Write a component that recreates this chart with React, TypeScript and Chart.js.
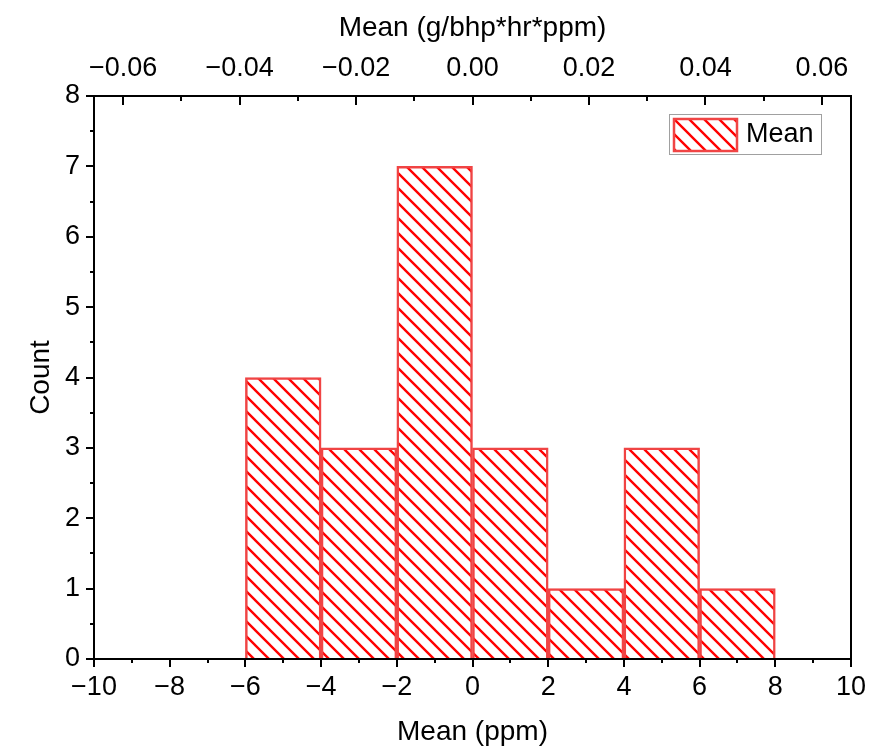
import React, { useEffect, useRef } from "react";
import { Chart, registerables } from "chart.js";

Chart.register(...registerables);

// ---- Data ----
const binStarts = [-6, -4, -2, 0, 2, 4, 6];
const binWidth = 2;
const counts = [4, 3, 7, 3, 1, 3, 1];
const seriesLabel = "Mean";
const xTicks = [-10, -8, -6, -4, -2, 0, 2, 4, 6, 8, 10];
const xMinorTicks = [-9, -7, -5, -3, -1, 1, 3, 5, 7, 9];
const topTicks = [-0.06, -0.04, -0.02, 0, 0.02, 0.04, 0.06];
const topMinorTicks = [-0.05, -0.03, -0.01, 0.01, 0.03, 0.05];
const yTicks = [0, 1, 2, 3, 4, 5, 6, 7, 8];
const yMinorTicks = [0.5, 1.5, 2.5, 3.5, 4.5, 5.5, 6.5, 7.5];
const xTitle = "Mean (ppm)";
const topTitle = "Mean (g/bhp*hr*ppm)";
const yTitle = "Count";

const FONT = "'Liberation Sans', Arial, sans-serif";
const FS = 27;
const TFS = 28;

function minus(v: number, digits: number) {
  const s = Math.abs(v).toFixed(digits);
  return (v < -1e-12 ? "\u2212" : "") + s;
}

function makePattern(): CanvasPattern | string {
  const size = 15;
  const c = document.createElement("canvas");
  c.width = size;
  c.height = size;
  const ctx = c.getContext("2d");
  if (!ctx) return "#ff0000";
  ctx.fillStyle = "#ffffff";
  ctx.fillRect(0, 0, size, size);
  ctx.strokeStyle = "#ff0000";
  ctx.lineWidth = 2.4;
  ctx.beginPath();
  ctx.moveTo(-2, -2);
  ctx.lineTo(size + 2, size + 2);
  ctx.moveTo(size - 3, -3);
  ctx.lineTo(size + 3, 3);
  ctx.moveTo(-3, size - 3);
  ctx.lineTo(3, size + 3);
  ctx.stroke();
  const p = ctx.createPattern(c, "repeat");
  return p || "#ff0000";
}

function zeroPad(s: any) {
  s.paddingLeft = 0;
  s.paddingRight = 0;
  s.paddingTop = 0;
  s.paddingBottom = 0;
}

export default function App() {
  const ref = useRef<HTMLCanvasElement | null>(null);

  useEffect(() => {
    const canvas = ref.current;
    if (!canvas) return;
    const pattern = makePattern();
    const borderRed = "#f04444";

    const frameTicks = {
      id: "frameTicks",
      afterDatasetsDraw(chart: any) {
        const { ctx, chartArea } = chart;
        const { left, right, top, bottom } = chartArea;
        const sx = chart.scales.x;
        const sx2 = chart.scales.x2;
        const sy = chart.scales.y;
        ctx.save();
        ctx.strokeStyle = "#000";
        ctx.lineWidth = 2;
        ctx.strokeRect(left, top, right - left, bottom - top);
        ctx.beginPath();
        const major = 8;
        const minor = 4;
        xTicks.forEach((v) => {
          const p = Math.round(sx.getPixelForValue(v));
          ctx.moveTo(p, bottom);
          ctx.lineTo(p, bottom + major);
        });
        xMinorTicks.forEach((v) => {
          const p = Math.round(sx.getPixelForValue(v));
          ctx.moveTo(p, bottom);
          ctx.lineTo(p, bottom + minor);
        });
        topTicks.forEach((v) => {
          const p = Math.round(sx2.getPixelForValue(v));
          ctx.moveTo(p, top);
          ctx.lineTo(p, top + major + 1);
        });
        topMinorTicks.forEach((v) => {
          const p = Math.round(sx2.getPixelForValue(v));
          ctx.moveTo(p, top);
          ctx.lineTo(p, top + minor + 1);
        });
        yTicks.forEach((v) => {
          const p = Math.round(sy.getPixelForValue(v));
          ctx.moveTo(left, p);
          ctx.lineTo(left - major, p);
        });
        yMinorTicks.forEach((v) => {
          const p = Math.round(sy.getPixelForValue(v));
          ctx.moveTo(left, p);
          ctx.lineTo(left - minor, p);
        });
        ctx.stroke();
        ctx.restore();
      },
      afterDraw(chart: any) {
        const { ctx, chartArea } = chart;
        const ds = chart.data.datasets[0];
        const bx = chartArea.right - 182;
        const by = chartArea.top + 18;
        const bw = 152;
        const bh = 40;
        ctx.save();
        ctx.fillStyle = "#fff";
        ctx.fillRect(bx, by, bw, bh);
        ctx.strokeStyle = "#a0a0a0";
        ctx.lineWidth = 1;
        ctx.strokeRect(bx + 0.5, by + 0.5, bw, bh);
        ctx.fillStyle = ds.backgroundColor;
        ctx.fillRect(bx + 5, by + 5, 63, 32);
        ctx.strokeStyle = ds.borderColor;
        ctx.lineWidth = 2.5;
        ctx.strokeRect(bx + 5, by + 5, 63, 32);
        ctx.fillStyle = "#000";
        ctx.font = `${FS}px ${FONT}`;
        ctx.textBaseline = "middle";
        ctx.textAlign = "left";
        ctx.fillText(ds.label, bx + 77, by + bh / 2 + 1);
        ctx.restore();
      },
    };

    const chart = new Chart(canvas, {
      type: "bar",
      data: {
        datasets: [
          {
            label: seriesLabel,
            data: binStarts.map((s, i) => ({ x: s + binWidth / 2, y: counts[i] })),
            backgroundColor: pattern as any,
            borderColor: borderRed,
            borderWidth: 2.5,
            barPercentage: 1,
            categoryPercentage: 1,
            xAxisID: "x",
            yAxisID: "y",
          },
        ],
      },
      options: {
        animation: false,
        responsive: false,
        maintainAspectRatio: false,
        devicePixelRatio: 1,
        layout: { padding: { left: 0, right: 18, top: 0, bottom: 0 } },
        plugins: {
          legend: { display: false },
          tooltip: { enabled: false },
        },
        scales: {
          x: {
            type: "linear",
            position: "bottom",
            min: -10,
            max: 10,
            offset: false,
            afterBuildTicks: (s: any) => {
              s.ticks = xTicks.map((v) => ({ value: v }));
            },
            afterFit: (s: any) => {
              s.height = 91;
              zeroPad(s);
            },
            grid: { display: false, drawTicks: false, offset: false },
            border: { display: false },
            ticks: {
              color: "#000",
              font: { family: FONT, size: FS },
              padding: 12,
              maxRotation: 0,
              autoSkip: false,
              callback: (v: any) => minus(Number(v), 0),
            },
            title: {
              display: true,
              text: xTitle,
              color: "#000",
              font: { family: FONT, size: TFS },
              padding: { top: 0, bottom: 1 },
            },
          },
          x2: {
            type: "linear",
            position: "top",
            min: -0.065,
            max: 0.065,
            offset: false,
            afterBuildTicks: (s: any) => {
              s.ticks = topTicks.map((v) => ({ value: v }));
            },
            afterFit: (s: any) => {
              s.height = 96;
              zeroPad(s);
            },
            grid: { display: false, drawTicks: false },
            border: { display: false },
            ticks: {
              color: "#000",
              font: { family: FONT, size: FS },
              padding: 11,
              maxRotation: 0,
              autoSkip: false,
              callback: (v: any) => minus(Number(v), 2),
            },
            title: {
              display: true,
              text: topTitle,
              color: "#000",
              font: { family: FONT, size: TFS },
              padding: { top: 11, bottom: 0 },
            },
          },
          y: {
            type: "linear",
            position: "left",
            min: 0,
            max: 8,
            afterBuildTicks: (s: any) => {
              s.ticks = yTicks.map((v) => ({ value: v }));
            },
            afterFit: (s: any) => {
              s.width = 94;
              zeroPad(s);
            },
            grid: { display: false, drawTicks: false },
            border: { display: false },
            ticks: {
              color: "#000",
              font: { family: FONT, size: FS },
              padding: 14,
              autoSkip: false,
              callback: (v: any) => minus(Number(v), 0),
            },
            title: {
              display: true,
              text: yTitle,
              color: "#000",
              font: { family: FONT, size: TFS },
              padding: { top: 24, bottom: 0 },
            },
          },
        },
      },
      plugins: [frameTicks],
    } as any);

    return () => {
      chart.destroy();
    };
  }, []);

  return (
    <div style={{ position: "absolute", left: 0, top: 0, width: 869, height: 750, background: "#fff" }}>
      <canvas ref={ref} width={869} height={750} style={{ display: "block", width: 869, height: 750 }} />
    </div>
  );
}
